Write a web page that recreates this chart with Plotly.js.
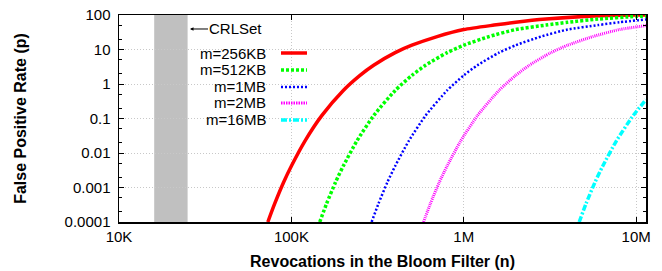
<!DOCTYPE html>
<html>
<head>
<meta charset="utf-8">
<script src="https://cdn.plot.ly/plotly-3.0.1.min.js"></script>
<style>html,body{margin:0;padding:0;background:#fff;}#chart{width:662px;height:271px;}</style>
</head>
<body>
<div id="chart"></div>
<script>
// ---- data ----
const seriesNames = ["m=256KB", "m=512KB", "m=1MB", "m=2MB", "m=16MB"];
const seriesColors = ["#ff0000", "#00ff00", "#0000ff", "#ff00ff", "#00ffff"];

const n256K = [73000, 80000, 90000, 100000, 120000, 150000, 200000, 250000, 300000, 400000, 500000, 700000, 1000000, 1500000, 2000000, 3000000, 5000000, 7000000, 10000000, 11400000];
const p256K = [0.0001, 0.00034, 0.0014, 0.0042, 0.0225, 0.121, 0.65, 1.78, 3.5, 8.1, 13.3, 23.7, 37.9, 51, 61.5, 76, 91, 96.5, 99.2, 99.6];

const n512K = [146000, 160000, 180000, 200000, 240000, 300000, 400000, 500000, 600000, 800000, 1000000, 1400000, 2000000, 3000000, 4000000, 6000000, 10000000, 11400000];
const p512K = [0.0001, 0.00034, 0.0014, 0.0042, 0.0225, 0.121, 0.65, 1.78, 3.5, 8.1, 13.3, 23.7, 37.9, 51, 61.5, 76, 91, 93.4];

const n1M = [292000, 320000, 360000, 400000, 480000, 600000, 800000, 1000000, 1200000, 1600000, 2000000, 2800000, 4000000, 6000000, 8000000, 11400000];
const p1M = [0.0001, 0.00034, 0.0014, 0.0042, 0.0225, 0.121, 0.65, 1.78, 3.5, 8.1, 13.3, 23.7, 37.9, 51, 61.5, 74.3];

const n2M = [584000, 640000, 720000, 800000, 960000, 1200000, 1600000, 2000000, 2400000, 3200000, 4000000, 5600000, 8000000, 11400000];
const p2M = [0.0001, 0.00034, 0.0014, 0.0042, 0.0225, 0.121, 0.65, 1.78, 3.5, 8.1, 13.3, 23.7, 37.9, 49.3];

const n16M = [4670000, 5120000, 5760000, 6400000, 7680000, 9600000, 11400000];
const p16M = [0.0001, 0.00034, 0.0014, 0.0042, 0.0225, 0.121, 0.35];

const crlsetRange = [16000, 25000];
const crlsetLabel = "CRLSet";

const xTickVals = [1e4, 1e5, 1e6, 1e7];
const xTickText = ["10K", "100K", "1M", "10M"];
const yTickVals = [0.0001, 0.001, 0.01, 0.1, 1, 10, 100];
const yTickText = ["0.0001", "0.001", "0.01", "0.1", "1", "10", "100"];
const yMinorTickVals = [0.0002, 0.0005, 0.002, 0.005, 0.02, 0.05, 0.2, 0.5, 2, 5, 20, 50];

// ---- styling ----
const xs = [n256K, n512K, n1M, n2M, n16M];
const ys = [p256K, p512K, p1M, p2M, p16M];
const dashes = ["solid", "3px,2px", "2px,2px", "1px,1px", "6px,2px,2px,2px"];
const legDashes = ["solid", "3px,2px", "2px,2px", "1.5px,1px", "6px,2px,2px,2px"];
const widths = [3.5, 3.5, 2.5, 3, 3.5];

const traces = seriesNames.map((name, i) => ({
  x: xs[i], y: ys[i], type: "scatter", mode: "lines", name: name,
  line: {color: seriesColors[i], width: widths[i], dash: dashes[i], shape: "spline", smoothing: 0.6},
  showlegend: false, hoverinfo: "skip"
}));

const FONT = "Liberation Sans, Arial, Helvetica, sans-serif";

// custom legend (text right aligned, sample on the right), like gnuplot
const legTextX = 0.2827, legLineX0 = 0.3074, legLineX1 = 0.3567;
const legRowY = [0.8164, 0.7343, 0.6522, 0.5749, 0.4928];

const shapes = [
  {type: "rect", xref: "x", yref: "paper", x0: crlsetRange[0], x1: crlsetRange[1], y0: 0, y1: 1,
   fillcolor: "#c0c0c0", line: {width: 0}, layer: "between"},
  {type: "rect", xref: "paper", yref: "paper", x0: 0.131, x1: 0.368, y0: 0.4638, y1: 0.9855,
   fillcolor: "#ffffff", line: {width: 0}, layer: "between"}
];
const annotations = [
  {xref: "paper", yref: "paper", x: 0.1347, y: 0.9324, ax: 46, ay: 0, text: crlsetLabel,
   showarrow: true, arrowhead: 2, arrowsize: 0.7, arrowwidth: 1, arrowcolor: "#000",
   font: {family: FONT, size: 15, color: "#000"}}
];
seriesNames.forEach((name, i) => {
  annotations.push({xref: "paper", yref: "paper", x: legTextX, y: legRowY[i], xanchor: "right", yanchor: "middle",
    text: name, showarrow: false, font: {family: FONT, size: 15, color: "#000"}});
  shapes.push({type: "line", xref: "paper", yref: "paper", x0: legLineX0, x1: legLineX1, y0: legRowY[i], y1: legRowY[i],
    line: {color: seriesColors[i], width: widths[i], dash: legDashes[i]}, layer: "above"});
});

const layout = {
  width: 662, height: 271,
  margin: {l: 119, r: 16, t: 15, b: 49},
  paper_bgcolor: "#fff", plot_bgcolor: "#fff",
  font: {family: FONT, size: 15, color: "#000"},
  showlegend: false,
  xaxis: {
    type: "log", range: [4, Math.log10(11400000)],
    tickvals: xTickVals, ticktext: xTickText,
    ticks: "inside", ticklen: 5, tickcolor: "#000", tickwidth: 1,
    showline: true, linecolor: "#000", linewidth: 1.5, mirror: "ticks",
    showgrid: true, gridcolor: "#c8c8c8", griddash: "1px,2px", gridwidth: 1,
    zeroline: false, tickfont: {family: FONT, size: 15},
    title: {text: "<b>Revocations in the Bloom Filter (n)</b>", font: {family: FONT, size: 16}, standoff: 12}
  },
  yaxis: {
    type: "log", range: [-4, 2],
    tickvals: yTickVals, ticktext: yTickText,
    ticks: "inside", ticklen: 5, tickcolor: "#000", tickwidth: 1,
    minor: {tickmode: "array", tickvals: yMinorTickVals, ticks: "inside", ticklen: 3, tickcolor: "#000", showgrid: false},
    showline: true, linecolor: "#000", linewidth: 1.5, mirror: "ticks",
    showgrid: true, gridcolor: "#c8c8c8", griddash: "1px,2px", gridwidth: 1,
    zeroline: false, tickfont: {family: FONT, size: 15}, ticklabelstandoff: 4,
    title: {text: "<b>False Positive Rate (p)</b>", font: {family: FONT, size: 16}, standoff: 34}
  },
  shapes: shapes,
  annotations: annotations
};

Plotly.newPlot("chart", traces, layout, {displayModeBar: false, staticPlot: true});
</script>
</body>
</html>
